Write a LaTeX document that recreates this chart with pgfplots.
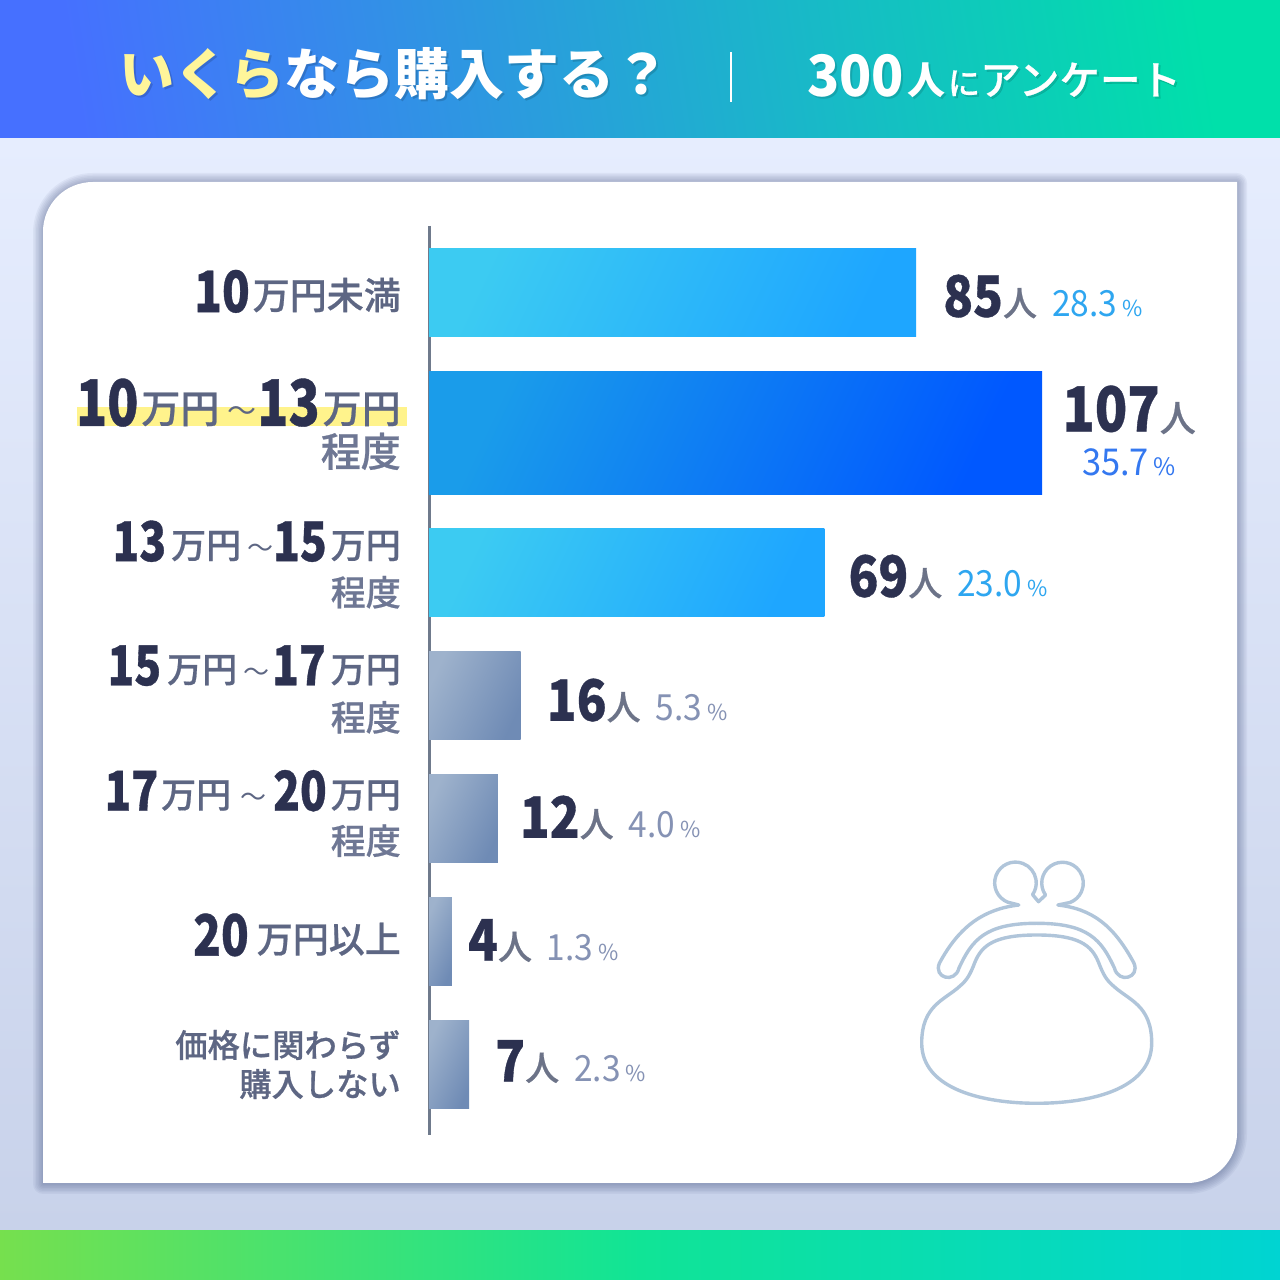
\documentclass[border=0pt]{standalone}
\usepackage{fontspec}
\usepackage{pgfplots}
\pgfplotsset{compat=1.18}
\usetikzlibrary{calc}
\newfontfamily\jp{Noto Sans CJK JP}
\newfontfamily\jm[FakeBold=0.6]{Noto Sans CJK JP Medium}
\newfontfamily\jn[FakeStretch=0.8,FakeBold=0.6]{Noto Sans CJK JP}
\newfontfamily\jv[FakeStretch=0.86,FakeBold=0.6]{Noto Sans CJK JP}
\newfontfamily\jq[FakeStretch=0.93]{Noto Sans CJK JP}
\newcommand{\fs}[1]{\fontsize{#1pt}{#1pt}\selectfont}
\definecolor{ink}{HTML}{2C3150}
\definecolor{unit}{HTML}{5D6683}
\definecolor{unitb}{HTML}{6E7794}
\definecolor{ppl}{HTML}{6C7388}
\definecolor{pb}{HTML}{2EA6F0}
\definecolor{pm}{HTML}{3478F0}
\definecolor{pg}{HTML}{8592B4}
\definecolor{purse}{HTML}{B0C5DA}
\newcommand{\N}[2]{{\jn\bfseries\fs{#1}\color{ink}#2}}
\newcommand{\U}[2]{\raisebox{3pt}{\jm\fs{#1}\color{unit}#2}}
\newcommand{\B}[2]{{\jm\fs{#1}\color{unitb}#2}}
\newcommand{\T}[1]{\raisebox{4pt}{\jp\fs{#1}\color{unit}〜}}
\newcommand{\V}[3]{{\jv\bfseries\fs{57}\color{ink}#1}\raisebox{1pt}{\jm\fs{34}\color{ppl}人}\hspace{15pt}{\jq\fs{36}\color{#3}#2}\hspace{5pt}{\jp\fs{22}\color{#3}\%}}
\definecolor{c3ccbf2}{HTML}{3CCBF2}
\definecolor{c1ea6ff}{HTML}{1EA6FF}
\definecolor{c9eb2cc}{HTML}{9EB2CC}
\definecolor{c6f8bb5}{HTML}{6F8BB5}
\definecolor{c1a9cea}{HTML}{1A9CEA}
\definecolor{c0058ff}{HTML}{0058FF}
\pgfplotsset{
  bright/.style={xbar,bar shift=0pt,bar width=88.5pt,draw=none,left color=c3ccbf2,right color=c1ea6ff,shading angle=65},
  muted/.style={xbar,bar shift=0pt,bar width=88.5pt,draw=none,left color=c9eb2cc,right color=c6f8bb5,shading angle=65},
  vlab/.style={nodes near coords={#1},every node near coord/.style={anchor=west,inner sep=0pt,opacity=1}},
}
\begin{document}
\begin{tikzpicture}
\useasboundingbox (0,0) rectangle (1280pt,1280pt);
\begin{scope}[x=1pt,y=-1pt,yshift=1280pt]
  \shade[top color={rgb,255:red,230;green,237;blue,254},bottom color={rgb,255:red,200;green,210;blue,234}] (0,138) rectangle (1280,1231);
  \shade[left color={rgb,255:red,70;green,112;blue,255},right color={rgb,255:red,0;green,224;blue,170},shading angle=99] (0,0) rectangle (1280,138);
  \shade[left color={rgb,255:red,118;green,224;blue,78},right color={rgb,255:red,16;green,228;blue,150},shading angle=90] (0,1230.5) rectangle (640,1280);
  \shade[left color={rgb,255:red,16;green,228;blue,150},right color={rgb,255:red,0;green,212;blue,210},shading angle=90] (640,1230.5) rectangle (1280,1280);
  % card shadow
  \foreach \w in {20,17,14,11,8,5,2.5}{
    \draw[line width=\w pt,color={rgb,255:red,70;green,85;blue,130},opacity=0.065,line join=round]
      (93,183) -- (1237,183) -- (1237,1134) .. controls (1237,1162) and (1215,1184) .. (1187,1184) -- (43,1184) -- (43,233) .. controls (43,205) and (65,183) .. (93,183) -- cycle;
  }
  \fill[white] (93,182) -- (1237,182) -- (1237,1133) .. controls (1237,1161) and (1215,1183) .. (1187,1183) -- (43,1183) -- (43,232) .. controls (43,204) and (65,182) .. (93,182) -- cycle;
  % highlight behind the second label
  \fill[color={rgb,255:red,255;green,243;blue,140}] (77,407) rectangle (407,426);
  % purse
  \begin{scope}[draw=purse,line width=3.4pt,line join=round,line cap=round]
    \draw (1036.7,935) .. controls (995,935) and (982,945) .. (975,962) .. controls (970,975) and (967,980) .. (960,986) .. controls (945,1000) and (921.7,1005) .. (921.7,1043) .. controls (921.7,1090) and (985,1103.3) .. (1036.7,1103.3) .. controls (1088.4,1103.3) and (1151.7,1090) .. (1151.7,1043) .. controls (1151.7,1005) and (1128.4,1000) .. (1113.4,986) .. controls (1106.4,980) and (1103.4,975) .. (1098.4,962) .. controls (1091.4,945) and (1078.4,935) .. (1036.7,935) -- cycle;
    \draw (1018.7,905) .. controls (985,909) and (960,925) .. (939.5,963) .. controls (933,978) and (955,984) .. (959,968) .. controls (972,940) and (985,923.3) .. (1036.7,923.3) .. controls (1088.4,923.3) and (1101.4,940) .. (1114.4,968) .. controls (1118.4,984) and (1140.4,978) .. (1133.9,963) .. controls (1113.4,925) and (1092,909) .. (1058,905);
    \draw (1018.7,905) -- (1008,902.3) arc[start angle=111,end angle=394.5,radius=20.8] -- (1038.5,901.7) -- (1045.5,895);
    \draw (1045.5,895) arc[start angle=145,end angle=429,radius=20.8] -- (1058,905);
  \end{scope}
  % header text
  \node[anchor=base west,inner sep=0pt,opacity=.15,text=black] at (121,97) {\jp\bfseries\fs{55}いくらなら購入する？};
  \node[anchor=base west,inner sep=0pt] at (119,95) {\jp\bfseries\fs{55}{\color[HTML]{FFF59A}いくら}{\color{white}なら購入する？}};
  \draw[white,line width=2pt] (731,52) -- (731,102);
  \node[anchor=base west,inner sep=0pt,opacity=.12,text=black] at (809,99) {{\jq\bfseries\fs{57}300}\hspace{3pt}\raisebox{2pt}{\jp\bfseries\fs{38}人}\hspace{3pt}\raisebox{2pt}{\jm\fs{32}に}\raisebox{2pt}{\jm\fs{40.5}アンケート}};
  \node[anchor=base west,inner sep=0pt,text=white] at (807,97) {{\jq\bfseries\fs{57}300}\hspace{3pt}\raisebox{2pt}{\jp\bfseries\fs{38}人}\hspace{3pt}\raisebox{2pt}{\jm\fs{32}に}\raisebox{2pt}{\jm\fs{40.5}アンケート}};
\end{scope}
\begin{axis}[
  at={(429pt,145pt)},anchor=south west,scale only axis,
  width=808pt,height=909pt,
  xmin=0,xmax=141.0,ymin=226,ymax=1135,y dir=reverse,
  axis x line=none,axis y line*=left,
  axis line style={color={rgb,255:red,111;green,122;blue,140},line width=3pt},
  clip=false,
  xtick=\empty,
  ytick={292.5,432.5,572.5,695.5,818.5,941.5,1064.5},
  major tick length=0pt,
  yticklabel style={align=right,anchor=east,inner sep=0pt,xshift=-28pt},
  yticklabels={
    {\N{57}{10}\hspace{3pt}\U{37}{万円未満}\rule[-3pt]{0pt}{0pt}},
    {\N{64}{10}\hspace{3pt}\U{39}{万円}\hspace{8pt}\T{29}\hspace{1pt}\N{64}{13}\hspace{3pt}\U{39}{万円}\\[5pt]\B{40}{程度}\rule[-20pt]{0pt}{0pt}},
    {\N{55}{13}\hspace{5pt}\U{35}{万円}\hspace{6pt}\T{26}\N{55}{15}\hspace{4pt}\U{35}{万円}\\[13pt]\B{35}{程度}\rule[-19pt]{0pt}{0pt}},
    {\N{55}{15}\hspace{6pt}\U{35}{万円}\hspace{6pt}\T{26}\hspace{3pt}\N{55}{17}\hspace{5pt}\U{35}{万円}\\[14pt]\B{35}{程度}\rule[-15pt]{0pt}{0pt}},
    {\N{55}{17}\hspace{3pt}\U{35}{万円}\hspace{9pt}\T{26}\hspace{7pt}\N{55}{20}\hspace{4pt}\U{35}{万円}\\[12pt]\B{35}{程度}\rule[-13pt]{0pt}{0pt}},
    {\N{57}{20}\hspace{8pt}\U{36}{万円以上}\rule[-14pt]{0pt}{0pt}},
    {{\jm\fs{32.3}\color{unit}価格に関わらず}\\[8pt]{\jm\fs{32.3}\color{unit}購入しない}},
  },
]
\addplot[bright,vlab={\V{85}{28.3}{pb}},every node near coord/.append style={xshift=27pt,yshift=-4pt}] coordinates {(85,292.5)};
\addplot[xbar,bar shift=0pt,bar width=123pt,draw=none,left color=c1a9cea,right color=c0058ff,shading angle=65,
  nodes near coords={\begin{tabular}{@{}c@{}}{\jv\bfseries\fs{62}\color{ink}107}{\jm\fs{36}\color{ppl}人}\\[14pt]{\jq\fs{37}\color{pm}35.7}\hspace{5pt}{\jp\fs{24}\color{pm}\%}\end{tabular}},
  every node near coord/.style={anchor=west,inner sep=0pt,xshift=20pt}] coordinates {(107,432.5)};
\addplot[bright,vlab={\V{69}{23.0}{pb}},every node near coord/.append style={xshift=24pt,yshift=-4pt}] coordinates {(69,572.5)};
\addplot[muted,vlab={\V{16}{5.3}{pg}},every node near coord/.append style={xshift=26pt,yshift=-5pt}] coordinates {(16,695.5)};
\addplot[muted,vlab={\V{12}{4.0}{pg}},every node near coord/.append style={xshift=22pt,yshift=1pt}] coordinates {(12,818.5)};
\addplot[muted,vlab={\V{4}{1.3}{pg}},every node near coord/.append style={xshift=16pt,yshift=1pt}] coordinates {(4,941.5)};
\addplot[muted,vlab={\V{7}{2.3}{pg}},every node near coord/.append style={xshift=26pt,yshift=3pt}] coordinates {(7,1064.5)};
\end{axis}
\end{tikzpicture}
\end{document}
